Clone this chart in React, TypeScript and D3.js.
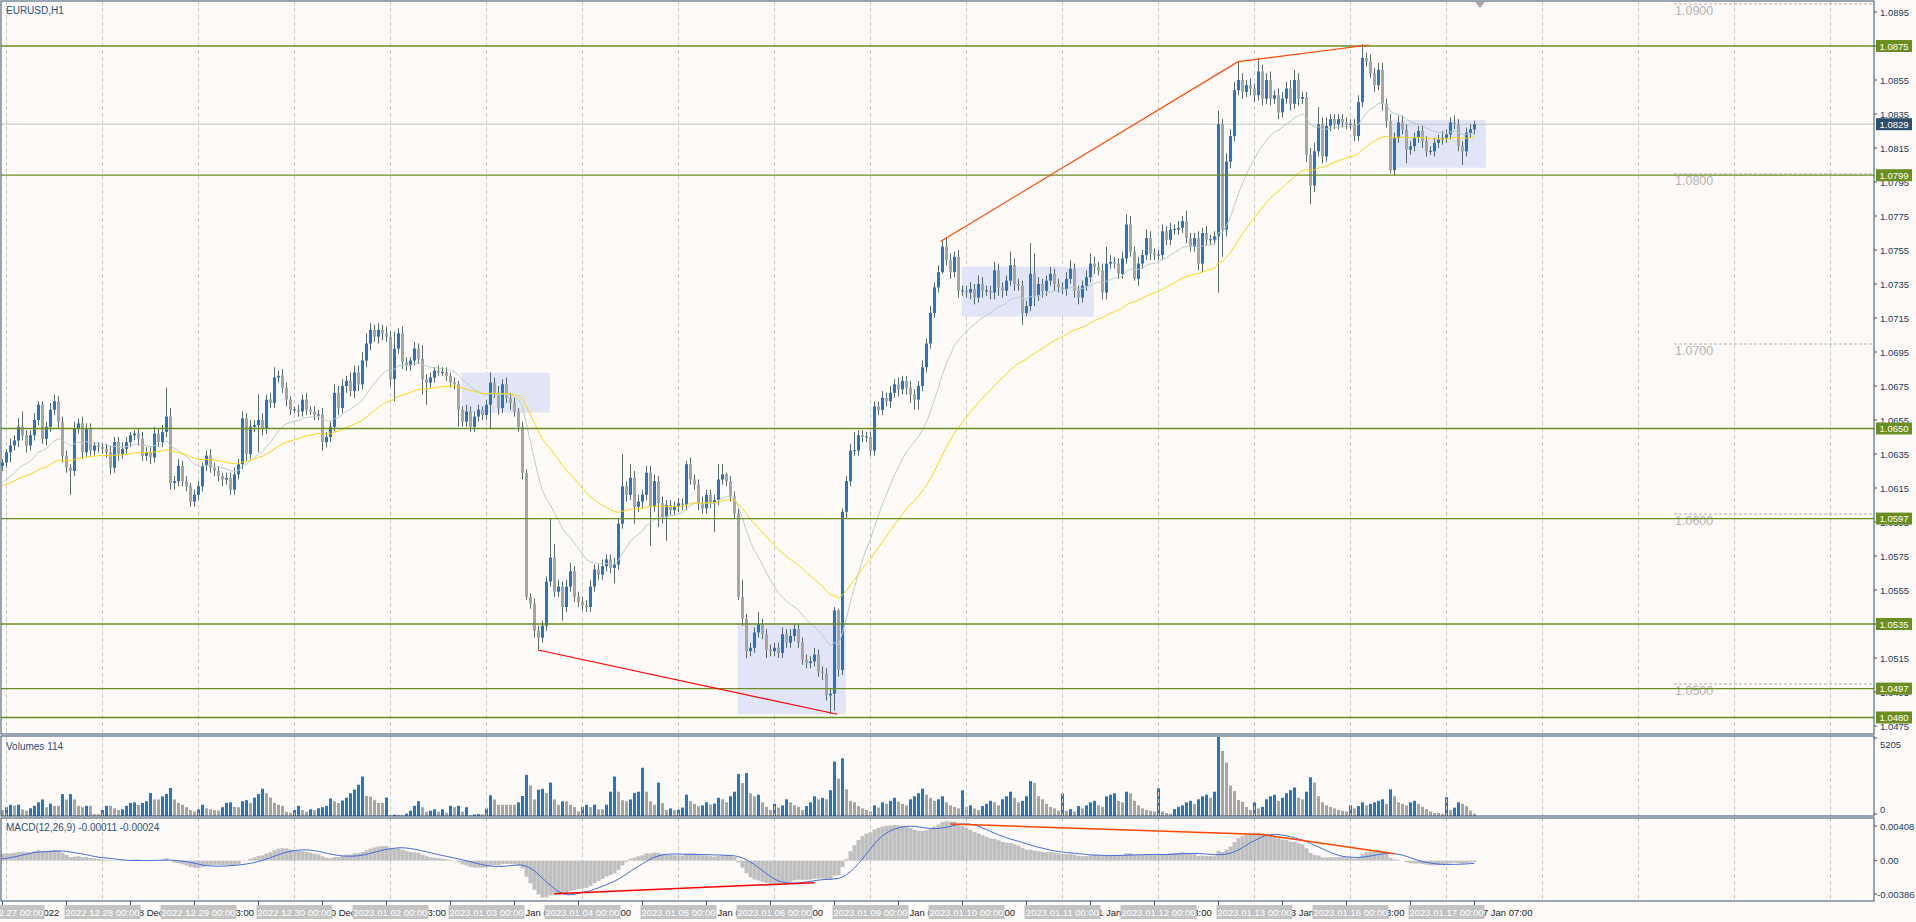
import React from "react";
import * as d3 from "d3";

const WIDTH = 1916;
const HEIGHT = 922;

const symbolTitle = "EURUSD,H1";
const volumeTitle = "Volumes 114";
const macdTitle = "MACD(12,26,9) -0.00011 -0.00024";

// trading days shown (H1 bars, 24 per day); bar 0 is the last bar of 2022.12.26
const tradingDays = [
  "2022.12.27", "2022.12.28", "2022.12.29", "2022.12.30", "2023.01.02", "2023.01.03",
  "2023.01.04", "2023.01.05", "2023.01.06", "2023.01.09", "2023.01.10", "2023.01.11",
  "2023.01.12", "2023.01.13", "2023.01.16", "2023.01.17",
];
const monthNames = ["Jan", "Feb", "Mar", "Apr", "May", "Jun", "Jul", "Aug", "Sep", "Oct", "Nov", "Dec"];

// prices in pips above 1.0000 (630 => 1.0630)
const firstOpen = 628;
const closes = [
  630, 636, 640, 643, 651, 646, 640, 646, 655, 664, 644, 651, 661, 666, 654, 634, 627, 625, 650, 653, 636, 650, 637, 640, 639,
  638, 636, 627, 642, 635, 638, 642, 646, 647, 644, 634, 636, 633, 647, 642, 648, 657, 618, 619, 628, 619, 616, 607, 611,
  616, 628, 634, 627, 625, 622, 620, 621, 614, 623, 629, 656, 635, 651, 652, 655, 650, 667, 665, 680, 681, 674, 667, 661,
  661, 660, 667, 661, 660, 658, 658, 642, 645, 651, 671, 662, 675, 678, 672, 683, 676, 690, 700, 708, 704, 708, 706, 704,
  679, 697, 706, 689, 687, 690, 697, 691, 679, 677, 680, 684, 683, 683, 681, 677, 676, 661, 654, 660, 651, 657, 661, 658,
  664, 677, 671, 662, 676, 668, 665, 660, 651, 624, 551, 547, 531, 527, 534, 560, 574, 554, 557, 545, 557, 566, 551, 548,
  546, 545, 557, 567, 564, 569, 573, 568, 570, 594, 616, 611, 621, 604, 607, 611, 624, 604, 619, 606, 598, 605, 602, 604,
  606, 605, 629, 620, 617, 606, 603, 611, 606, 608, 620, 623, 619, 610, 600, 551, 538, 519, 521, 530, 535, 529, 520, 519,
  521, 518, 529, 524, 528, 532, 524, 514, 512, 513, 517, 507, 506, 493, 494, 543, 508, 601, 619, 637, 637, 646, 645, 645,
  637, 663, 661, 668, 666, 671, 676, 673, 678, 674, 670, 667, 675, 686, 700, 718, 733, 742, 757, 749, 742, 751, 731, 731,
  730, 732, 727, 735, 731, 731, 730, 743, 733, 731, 737, 746, 735, 734, 718, 722, 741, 728, 735, 731, 737, 741, 735, 733,
  732, 738, 744, 731, 727, 734, 739, 747, 745, 743, 730, 747, 748, 747, 741, 750, 770, 754, 738, 747, 752, 762, 753, 752,
  752, 766, 761, 767, 767, 768, 772, 762, 757, 762, 747, 765, 761, 761, 763, 829, 767, 807, 822, 849, 855, 848, 852, 850,
  846, 860, 844, 855, 844, 846, 836, 844, 850, 841, 855, 844, 845, 811, 793, 813, 829, 810, 828, 832, 829, 832, 830, 829,
  829, 822, 842, 868, 866, 859, 852, 861, 841, 831, 802, 821, 830, 826, 814, 816, 821, 825, 819, 813, 813, 818, 820, 821,
  823, 830, 829, 816, 813, 824, 826, 829,
];
// wick lengths in pips above / below the body
const upperWick = [
  2, 2, 4, 3, 5, 9, 3, 3, 4, 2, 2, 3, 4, 4, 3, 3, 3, 2, 4, 3, 4, 3, 3, 2, 2,
  2, 3, 4, 3, 3, 4, 3, 2, 2, 3, 4, 3, 3, 4, 3, 4, 17, 5, 3, 4, 3, 3, 2, 3,
  3, 2, 3, 4, 3, 3, 2, 3, 3, 4, 3, 4, 3, 4, 3, 15, 4, 3, 4, 6, 3, 4, 3, 2,
  2, 3, 3, 4, 2, 3, 3, 4, 3, 3, 5, 4, 4, 3, 5, 4, 4, 5, 6, 4, 3, 4, 3, 4,
  3, 10, 3, 4, 3, 2, 4, 3, 8, 3, 3, 2, 3, 3, 3, 2, 3, 2, 2, 4, 3, 3, 3, 2,
  3, 6, 3, 4, 3, 4, 3, 3, 2, 3, 2, 2, 3, 3, 3, 3, 23, 8, 4, 3, 4, 5, 3, 3,
  3, 3, 4, 3, 3, 4, 3, 3, 4, 3, 19, 3, 8, 4, 4, 3, 4, 4, 4, 3, 4, 3, 3, 3,
  3, 3, 2, 4, 3, 3, 4, 3, 3, 3, 9, 6, 1, 3, 3, 3, 10, 3, 3, 3, 7, 3, 3, 3,
  3, 3, 4, 3, 4, 3, 3, 3, 3, 3, 4, 3, 3, 3, 3, 2, 1, 2, 3, 4, 11, 3, 3, 3,
  3, 3, 3, 4, 3, 4, 3, 4, 3, 3, 4, 3, 3, 4, 3, 4, 3, 4, 4, 5, 4, 3, 4, 3,
  3, 4, 3, 5, 4, 3, 3, 5, 4, 3, 3, 8, 4, 3, 3, 3, 18, 12, 4, 3, 3, 4, 3, 3,
  3, 4, 5, 3, 3, 3, 4, 6, 4, 3, 4, 10, 4, 3, 3, 4, 6, 5, 3, 4, 3, 5, 4, 3,
  3, 4, 3, 4, 3, 4, 3, 6, 3, 3, 4, 3, 4, 3, 3, 8, 3, 5, 4, 5, 11, 4, 3, 4,
  3, 8, 4, 4, 5, 3, 4, 4, 4, 5, 6, 4, 3, 3, 4, 5, 10, 4, 5, 3, 3, 3, 3, 3,
  3, 3, 4, 8, 3, 4, 3, 4, 4, 3, 4, 3, 4, 4, 3, 3, 3, 3, 3, 3, 3, 3, 3, 4,
  3, 3, 4, 3, 3, 3, 3, 2,
];
const lowerWick = [
  3, 3, 6, 3, 4, 3, 4, 3, 3, 3, 3, 4, 3, 3, 4, 4, 3, 14, 3, 3, 4, 3, 3, 3, 3,
  3, 3, 4, 3, 4, 3, 3, 3, 3, 4, 3, 3, 4, 3, 3, 3, 3, 4, 4, 3, 3, 3, 3, 3,
  3, 3, 3, 3, 3, 3, 4, 3, 3, 3, 3, 3, 4, 3, 3, 16, 4, 3, 3, 3, 3, 3, 4, 3,
  2, 3, 3, 3, 2, 3, 3, 5, 3, 3, 3, 4, 3, 4, 3, 4, 4, 3, 4, 4, 3, 4, 4, 3,
  4, 13, 3, 4, 3, 3, 3, 3, 9, 13, 3, 3, 2, 2, 3, 3, 3, 10, 3, 3, 3, 3, 3, 3,
  3, 14, 3, 4, 3, 3, 4, 3, 3, 4, 2, 3, 4, 7, 3, 3, 3, 3, 3, 8, 3, 3, 3, 3,
  3, 3, 3, 3, 3, 3, 3, 3, 9, 3, 3, 4, 3, 10, 3, 4, 3, 23, 3, 14, 4, 14, 3, 3,
  3, 3, 3, 3, 3, 4, 3, 3, 3, 17, 3, 3, 3, 3, 3, 2, 4, 4, 3, 3, 3, 3, 5, 3,
  3, 3, 3, 3, 3, 3, 3, 3, 3, 3, 3, 3, 4, 3, 11, 10, 4, 3, 4, 3, 3, 3, 3, 3,
  3, 3, 3, 3, 3, 4, 3, 4, 3, 4, 5, 6, 6, 3, 3, 3, 3, 3, 1, 3, 4, 3, 4, 3,
  3, 4, 4, 3, 4, 3, 4, 4, 5, 4, 3, 3, 4, 3, 7, 2, 3, 6, 3, 4, 3, 3, 4, 3,
  3, 4, 3, 4, 4, 3, 3, 3, 4, 3, 4, 4, 3, 3, 3, 3, 3, 3, 1, 4, 3, 3, 4, 3,
  3, 3, 3, 3, 3, 3, 3, 3, 3, 3, 4, 5, 3, 3, 3, 33, 16, 4, 4, 3, 3, 4, 3, 4,
  4, 3, 4, 3, 4, 3, 4, 3, 3, 4, 3, 4, 3, 4, 11, 4, 3, 4, 3, 3, 3, 3, 3, 3,
  3, 3, 3, 3, 3, 3, 4, 3, 4, 4, 2, 3, 3, 3, 8, 3, 3, 3, 4, 3, 2, 3, 3, 3,
  3, 3, 3, 3, 8, 3, 3, 3,
];
const volumes = [
  390, 580, 740, 700, 740, 440, 350, 510, 670, 900, 1090, 580, 810, 670, 670, 1440, 1090, 1440, 1090, 670, 580, 670, 670, 120, 120,
  390, 670, 670, 510, 390, 440, 670, 860, 900, 740, 860, 970, 1510, 1090, 1090, 1290, 1450, 1850, 1090, 860, 740, 580, 390, 300,
  440, 740, 510, 440, 390, 350, 580, 860, 900, 600, 580, 970, 1040, 860, 1210, 1440, 1790, 1510, 1210, 860, 740, 670, 280, 210,
  390, 670, 390, 280, 440, 390, 510, 580, 670, 1160, 970, 860, 1020, 1210, 1500, 1740, 2060, 2600, 1320, 1280, 1040, 860, 860, 1210,
  50, 90, 80, 50, 160, 350, 670, 970, 580, 280, 350, 440, 280, 440, 210, 670, 580, 670, 280, 580, 50, 100, 120, 120,
  500, 1370, 1090, 740, 740, 740, 740, 740, 900, 1320, 2710, 2020, 1090, 1740, 1790, 1510, 2200, 1090, 740, 970, 970, 740, 580, 300,
  600, 740, 580, 740, 440, 440, 740, 1600, 2600, 1600, 1040, 970, 1090, 1510, 1600, 3180, 1600, 970, 740, 2200, 860, 390, 500, 390,
  420, 560, 1400, 980, 800, 650, 700, 900, 750, 820, 1200, 1100, 900, 1300, 1600, 2760, 2170, 2830, 1500, 1300, 1400, 900, 600, 400,
  800, 560, 700, 1100, 900, 700, 600, 400, 650, 900, 1300, 1100, 1200, 1100, 1700, 3590, 2460, 3800, 1760, 1000, 900, 650, 500, 400,
  300, 700, 560, 900, 800, 1000, 1200, 950, 800, 700, 1100, 1300, 1500, 1800, 1400, 1200, 1000, 1100, 1300, 900, 700, 600, 500, 1690,
  600, 700, 500, 400, 650, 800, 1000, 900, 700, 1100, 1300, 1600, 1200, 900, 1000, 1300, 2300, 2170, 1300, 1100, 800, 600, 500, 350,
  1480, 350, 450, 300, 650, 500, 700, 900, 1000, 700, 600, 1300, 1400, 1500, 1000, 900, 1600, 1500, 1000, 700, 500, 400, 350, 300,
  1830, 300, 200, 150, 450, 600, 700, 900, 1000, 800, 1100, 1300, 1400, 1200, 1600, 5205, 4290, 3520, 2000, 1640, 1060, 940, 600, 400,
  900, 500, 600, 1100, 1300, 1400, 1000, 1200, 1500, 1700, 1880, 1200, 1100, 1600, 2550, 2200, 1300, 900, 700, 600, 500, 400, 350, 300,
  700, 500, 650, 900, 700, 800, 900, 1000, 1100, 800, 1760, 1300, 900, 800, 700, 900, 1000, 800, 600, 450, 300, 200, 200, 150,
  1240, 400, 550, 900, 800, 650, 350, 150,
];

// moving averages / MACD starting values read at the left edge (pips)
const fastMaStart = 617;
const slowMaStart = 616;
const macdEma12Start = 628;
const macdEma26Start = 621;
const macdSignalStart = 0.0001;

const priceAxisTicks = [
  1.0475, 1.0495, 1.0515, 1.0535, 1.0555, 1.0575, 1.0595, 1.0615, 1.0635, 1.0655, 1.0675,
  1.0695, 1.0715, 1.0735, 1.0755, 1.0775, 1.0795, 1.0815, 1.0835, 1.0855, 1.0875, 1.0895,
];
const horizontalLevels = [1.0875, 1.0799, 1.065, 1.0597, 1.0535, 1.0497, 1.048];
const currentPrice = 1.0829;
const roundLevels = [1.09, 1.08, 1.07, 1.06, 1.05];
const volumeAxisLabels = [5205, 0];
const macdAxisLabels = [0.00408, 0.0, -0.00386];

// zones: bar range and price range (pips)
const zoneFrom = [114.75, 183.8, 239.8, 347.4];
const zoneTo = [136.8, 210.8, 272.8, 370.8];
const zoneTop = [682.8, 535.6, 745.2, 831.5];
const zoneBottom = [659.3, 482.1, 715.8, 803.4];

// trend lines: [bar, pips]
const priceLineLow: [number, number][] = [[133.9, 519.7], [208.7, 481.9]];
const priceLineHigh: [number, number][] = [[234.5, 760], [308.9, 865.8], [341.6, 875.6]];
// MACD trend lines: [bar, value]
const macdLineLow: [number, number][] = [[138, -0.00316], [203, -0.00211]];
const macdLineHigh: [number, number][] = [[237, 0.00351], [315, 0.00249], [348, 0.00065]];

const C = {
  bg: "#fdfaf8",
  frame: "#34506c",
  text: "#203c5c",
  grid: "#c9c9c9",
  bull: "#2774c4",
  bear: "#a5a5a5",
  wick: "#566a6a",
  level: "#6b8e23",
  zone: "#e2e5f8",
  fastMa: "#b7cfcb",
  slowMa: "#ffd700",
  red: "#ff0000",
  orange: "#ff4500",
  macdHist: "#c0c0c0",
  macdSignal: "#4169e1",
};

function ema(values: number[], period: number, seed: number) {
  const k = 2 / (period + 1);
  let e = seed;
  return values.map((v) => (e = e + k * (v - e)));
}

function mt4Label(i: number) {
  if (i === 0) return "26 Dec 2022";
  const d = Math.floor((i - 1) / 24);
  const h = (i - 1) % 24;
  const [, mm, dd] = tradingDays[d].split(".");
  return `${+dd} ${monthNames[+mm - 1]} ${String(h).padStart(2, "0")}:00`;
}

export default function App() {
  const n = closes.length;
  const font = "'Liberation Sans', Arial, sans-serif";

  const plotLeft = 1;
  const plotRight = 1874;
  const mainTop = 1, mainBottom = 734;
  const volTop = 736, volBottom = 816;
  const macdTop = 818, macdBottom = 901;

  const x = d3.scaleLinear().domain([0, 1]).range([2.5, 6.5]);
  const yPrice = d3.scaleLinear().domain([1.0475, 1.0895]).range([726, 12]);
  const yPip = (p: number) => yPrice(1 + p / 10000);
  const yVol = d3.scaleLinear().domain([0, 5205]).range([volBottom, volTop + 1]);
  const yMacd = d3.scaleLinear().domain([-0.00386, 0.00408]).range([macdBottom, macdTop]);

  const candles = closes.map((c, i) => {
    const o = i === 0 ? firstOpen : closes[i - 1];
    return { i, o, c, hi: Math.max(o, c) + upperWick[i], lo: Math.min(o, c) - lowerWick[i] };
  });

  const fastMa = ema(closes, 20, fastMaStart);
  const slowMa = ema(closes, 50, slowMaStart);
  const e12 = ema(closes, 12, macdEma12Start);
  const e26 = ema(closes, 26, macdEma26Start);
  const macd = closes.map((_, i) => (e12[i] - e26[i]) / 10000);
  const signal = macd.map((_, i) => {
    let s = 0;
    for (let k = 0; k < 9; k++) s += i - k >= 0 ? macd[i - k] : macdSignalStart;
    return s / 9;
  });

  const maLine = d3.line<number>().x((_, i) => x(i)).y((v) => yPip(v));
  const macdLine = d3.line<number>().x((_, i) => x(i)).y((v) => yMacd(v));
  const pipLine = d3.line<[number, number]>().x((d) => x(d[0])).y((d) => yPip(d[1]));
  const macdTrend = d3.line<[number, number]>().x((d) => x(d[0])).y((d) => yMacd(d[1]));

  const dayX = tradingDays.map((_, d) => x(1 + 24 * d));
  const gridX: number[] = [];
  for (let d = 0; x(1 + 24 * d) < plotRight; d++) gridX.push(x(1 + 24 * d));

  const tickBars: number[] = [];
  for (let i = 0; i < n; i += 16) tickBars.push(i);

  const gridLines = (y1: number, y2: number) =>
    gridX.map((gx, k) => (
      <line key={k} x1={gx} x2={gx} y1={y1} y2={y2} stroke={C.grid} strokeDasharray="4,3" />
    ));

  return (
    <svg
      width={WIDTH}
      height={HEIGHT}
      style={{ position: "absolute", left: 0, top: 0, display: "block" }}
      fontFamily={font}
    >
      <defs>
        <clipPath id="clipMain"><rect x={plotLeft} y={mainTop} width={plotRight - plotLeft} height={mainBottom - mainTop} /></clipPath>
        <clipPath id="clipVol"><rect x={plotLeft} y={volTop} width={plotRight - plotLeft} height={volBottom - volTop} /></clipPath>
        <clipPath id="clipMacd"><rect x={plotLeft} y={macdTop} width={plotRight - plotLeft} height={macdBottom - macdTop} /></clipPath>
      </defs>
      <rect x={0} y={0} width={WIDTH} height={HEIGHT} fill={C.bg} />

      {/* MAIN PANEL */}
      <g clipPath="url(#clipMain)">
        {gridLines(mainTop, mainBottom)}
        {zoneFrom.map((f, k) => (
          <rect key={k} x={x(f)} y={yPip(zoneTop[k])} width={x(zoneTo[k]) - x(f)}
            height={yPip(zoneBottom[k]) - yPip(zoneTop[k])} fill={C.zone} />
        ))}
        {roundLevels.map((lv, k) => (
          <g key={k}>
            <line x1={1674} x2={plotRight} y1={yPrice(lv) + 0.5} y2={yPrice(lv) + 0.5} stroke="#b0b0b0" strokeDasharray="3,2" />
            <text x={1675} y={yPrice(lv) + 7} fontSize={12.5} fill="#b4b4b4" dominantBaseline="central">{lv.toFixed(4)}</text>
          </g>
        ))}
        <line x1={plotLeft} x2={plotRight} y1={yPrice(currentPrice)} y2={yPrice(currentPrice)} stroke="#c4c4c4" />
        {candles.map((d) => {
          const cx = x(d.i);
          const up = d.c >= d.o;
          const yTop = yPip(Math.max(d.o, d.c));
          const yBot = yPip(Math.min(d.o, d.c));
          return (
            <g key={d.i}>
              <line x1={cx} x2={cx} y1={yPip(d.hi)} y2={yPip(d.lo)} stroke={C.wick} />
              {Math.abs(d.c - d.o) < 0.6 ? (
                <line x1={cx - 1.5} x2={cx + 1.5} y1={yTop} y2={yTop} stroke={C.bull} />
              ) : (
                <rect x={cx - 1.5} y={yTop} width={3} height={yBot - yTop} fill={up ? C.bull : C.bear} />
              )}
            </g>
          );
        })}
        <path d={maLine(fastMa) || ""} fill="none" stroke={C.fastMa} strokeWidth={1} />
        <path d={maLine(slowMa) || ""} fill="none" stroke={C.slowMa} strokeWidth={1} />
        {horizontalLevels.map((lv, k) => (
          <line key={k} x1={plotLeft} x2={plotRight} y1={yPrice(lv)} y2={yPrice(lv)} stroke={C.level} strokeWidth={1.3} />
        ))}
        <path d={pipLine(priceLineLow) || ""} fill="none" stroke={C.red} strokeWidth={1.2} />
        <path d={pipLine(priceLineHigh) || ""} fill="none" stroke={C.orange} strokeWidth={1.2} />
        <polygon points="1475,2 1485,2 1480,8" fill="#a8a8a8" />
      </g>
      <text x={6} y={10} fontSize={10} fill="#2c5078" dominantBaseline="central">{symbolTitle}</text>
      <rect x={plotLeft} y={mainTop} width={plotRight - plotLeft} height={mainBottom - mainTop} fill="none" stroke={C.frame} />

      {/* price axis */}
      {priceAxisTicks.map((p, k) => (
        <g key={k}>
          <line x1={plotRight} x2={plotRight + 3} y1={yPrice(p)} y2={yPrice(p)} stroke={C.frame} />
          <text x={1880} y={yPrice(p)} fontSize={9.5} fill={C.text} dominantBaseline="central">{p.toFixed(4)}</text>
        </g>
      ))}
      {horizontalLevels.map((lv, k) => (
        <g key={k}>
          <rect x={1876} y={yPrice(lv) - 6} width={36} height={12} fill={C.level} />
          <text x={1894} y={yPrice(lv)} fontSize={9.5} fill="#ffffff" textAnchor="middle" dominantBaseline="central">{lv.toFixed(4)}</text>
        </g>
      ))}
      <rect x={1876} y={yPrice(currentPrice) - 6} width={36} height={12} fill="#2f4f6f" />
      <text x={1894} y={yPrice(currentPrice)} fontSize={9.5} fill="#ffffff" textAnchor="middle" dominantBaseline="central">{currentPrice.toFixed(4)}</text>

      {/* VOLUME PANEL */}
      <g clipPath="url(#clipVol)">
        {volumes.map((v, i) => (
          <rect key={i} x={x(i) - 1.5} y={yVol(v)} width={3} height={yVol(0) - yVol(v)}
            fill={i > 0 && v > volumes[i - 1] ? C.bull : C.bear} />
        ))}
        {gridLines(volTop, volBottom)}
      </g>
      <text x={6} y={746} fontSize={10} fill="#2c5078" dominantBaseline="central">{volumeTitle}</text>
      <rect x={plotLeft} y={volTop} width={plotRight - plotLeft} height={volBottom - volTop} fill="none" stroke={C.frame} />
      {volumeAxisLabels.map((v, k) => (
        <g key={k}>
          <line x1={plotRight} x2={plotRight + 3} y1={k === 0 ? volTop + 2 : volBottom - 2} y2={k === 0 ? volTop + 2 : volBottom - 2} stroke={C.frame} />
          <text x={1880} y={k === 0 ? 744 : 809} fontSize={9.5} fill={C.text} dominantBaseline="central">{String(v)}</text>
        </g>
      ))}

      {/* MACD PANEL */}
      <g clipPath="url(#clipMacd)">
        {gridLines(macdTop, macdBottom)}
        {macd.map((v, i) => (
          <rect key={i} x={x(i) - 2} y={Math.min(yMacd(v), yMacd(0))} width={4}
            height={Math.abs(yMacd(v) - yMacd(0))} fill={C.macdHist} />
        ))}
        <path d={macdLine(signal) || ""} fill="none" stroke={C.macdSignal} strokeWidth={1} />
        <path d={macdTrend(macdLineLow) || ""} fill="none" stroke={C.red} strokeWidth={1.5} />
        <path d={macdTrend(macdLineHigh) || ""} fill="none" stroke={C.orange} strokeWidth={1.5} />
      </g>
      <text x={6} y={827} fontSize={10} fill="#2c5078" dominantBaseline="central">{macdTitle}</text>
      <rect x={plotLeft} y={macdTop} width={plotRight - plotLeft} height={macdBottom - macdTop} fill="none" stroke={C.frame} />
      {macdAxisLabels.map((v, k) => {
        const ty = k === 0 ? 826 : k === 1 ? yMacd(0) : 894;
        return (
          <g key={k}>
            <line x1={plotRight} x2={plotRight + 3} y1={ty} y2={ty} stroke={C.frame} />
            <text x={v < 0 ? 1877 : 1880} y={ty} fontSize={9.5} fill={C.text} dominantBaseline="central">
              {v === 0 ? "0.00" : v.toFixed(5)}
            </text>
          </g>
        );
      })}

      {/* TIME AXIS */}
      {tickBars.map((i) => (
        <g key={i}>
          <line x1={x(i)} x2={x(i)} y1={macdBottom} y2={macdBottom + 4} stroke={C.frame} />
          <text x={x(i) + 3} y={912} fontSize={9.5} fill="#1a1a1a" dominantBaseline="central">{mt4Label(i)}</text>
        </g>
      ))}
      {tradingDays.map((day, d) => (
        <g key={day}>
          <rect x={dayX[d] - 38} y={905} width={76} height={14} fill="#c3c3c3" />
          <text x={dayX[d]} y={912} fontSize={9.5} fill="#ffffff" textAnchor="middle" dominantBaseline="central">{`${day} 00:00`}</text>
        </g>
      ))}
    </svg>
  );
}
